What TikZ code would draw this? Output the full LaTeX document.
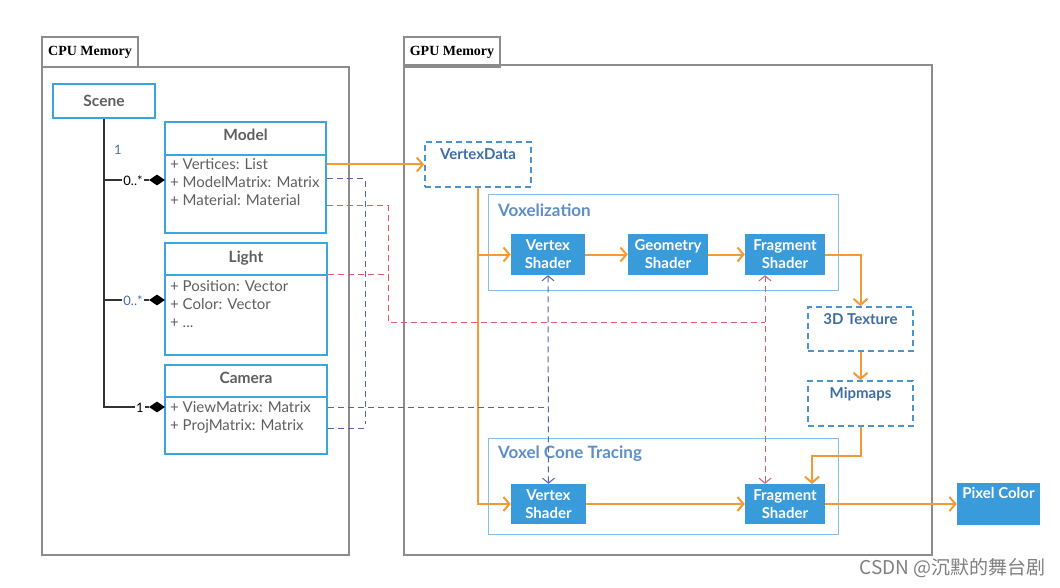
\documentclass[tikz,border=0pt]{standalone}
\usepackage{fontspec}
\setmainfont{Lato}
\newfontfamily\serifb{Liberation Serif}
\newfontfamily\cjk{Noto Sans CJK SC}
\usetikzlibrary{arrows.meta,shapes.geometric}
\definecolor{umlblue}{HTML}{3DA5DD}
\definecolor{shaderblue}{HTML}{3A9BDA}
\definecolor{orng}{HTML}{F39A34}
\definecolor{memgray}{HTML}{8C8C8C}
\definecolor{txtgray}{HTML}{5F5F5F}
\definecolor{dashblue}{HTML}{4B93CF}
\definecolor{darkblue}{HTML}{3C6DA6}
\definecolor{lblblue}{HTML}{5D8FC6}
\definecolor{groupblue}{HTML}{7FC1E6}
\definecolor{linkblue}{HTML}{5566A8}
\definecolor{linkred}{HTML}{E25A66}
\definecolor{multblue}{HTML}{4E6AA8}
\tikzset{
  membox/.style={draw=memgray, line width=1.8pt, inner sep=0pt},
  memtab/.style={draw=memgray, line width=1.8pt, inner sep=0pt, font=\serifb\bfseries\fontsize{14}{16}\selectfont},
  umlbox/.style={draw=umlblue, line width=1.8pt, inner sep=0pt, fill=white},
  umlhead/.style={anchor=north, text=txtgray, font=\bfseries\fontsize{15.5}{17}\selectfont},
  attrs/.style={anchor=north west, align=left, text=txtgray, inner sep=0pt, font=\fontsize{15}{18}\selectfont},
  shader/.style={fill=shaderblue, text=white, inner sep=0pt, align=center, font=\bfseries\fontsize{15}{18}\selectfont},
  dbox/.style={draw=dashblue, line width=1.8pt, dash pattern=on 6pt off 4pt, inner sep=0pt},
  dlabel/.style={anchor=north, text=darkblue, font=\bfseries\fontsize{15}{17}\selectfont},
  group/.style={draw=groupblue, line width=1pt, inner sep=0pt},
  grouplbl/.style={anchor=west, text=lblblue, font=\bfseries\fontsize{17}{19}\selectfont, inner sep=0pt},
  oline/.style={draw=orng, line width=2pt},
  oarrow/.style={oline, -{Straight Barb[length=6pt,width=14pt,line width=2pt]}},
  assoc/.style={draw=black!80, line width=2pt},
  diam/.style={diamond, fill=black, inner sep=0pt, minimum width=16pt, minimum height=11pt},
  mult/.style={fill=white, inner sep=1pt, font=\fontsize{13}{14}\selectfont},
  bdash/.style={draw=linkblue, line width=1pt, dash pattern=on 6pt off 4pt},
  rdash/.style={draw=linkred, line width=1pt, dash pattern=on 6pt off 4pt},
  linktip/.style={{Straight Barb[length=5pt,width=12pt,line width=1pt]}-{Straight Barb[length=5pt,width=12pt,line width=1pt]}}
}
\begin{document}
\begin{tikzpicture}[x=1pt,y=-1pt]
\useasboundingbox (0,0) rectangle (1060,588);
\fill[white] (0,0) rectangle (1060,588);

% memory containers
\node[membox, minimum width=307pt, minimum height=488pt] (cpu) at (195.5,311) {};
\node[memtab, minimum width=96pt, minimum height=30pt] (cputab) at (90,52) {CPU Memory};
\node[membox, minimum width=528pt, minimum height=490pt] (gpu) at (668,310) {};
\node[memtab, minimum width=96pt, minimum height=30pt] (gputab) at (452,52) {GPU Memory};

% CPU side
\node[umlbox, minimum width=102pt, minimum height=34pt, text=txtgray, font=\bfseries\fontsize{15.5}{17}\selectfont] (scene) at (104,101) {Scene};

\node[umlbox, minimum width=161pt, minimum height=111pt] (model) at (245.5,177.5) {};
\node[umlhead] (modelh) at (245.5,125) {Model};
\draw[draw=umlblue, line width=1.8pt] (model.west |- 0,155) -- (model.east |- 0,155);
\node[attrs] (modela) at (170,158) {+ Vertices: List\\+ ModelMatrix: Matrix\\+ Material: Material};

\node[umlbox, minimum width=162pt, minimum height=112pt] (light) at (246,299) {};
\node[umlhead] (lighth) at (246,247) {Light};
\draw[draw=umlblue, line width=1.8pt] (light.west |- 0,275) -- (light.east |- 0,275);
\node[attrs] (lighta) at (170,280) {+ Position: Vector\\+ Color: Vector\\+ ...};

\node[umlbox, minimum width=162pt, minimum height=89pt] (camera) at (246,409.5) {};
\node[umlhead] (camerah) at (246,369) {Camera};
\draw[draw=umlblue, line width=1.8pt] (camera.west |- 0,397) -- (camera.east |- 0,397);
\node[attrs] (cameraa) at (170,401) {+ ViewMatrix: Matrix\\+ ProjMatrix: Matrix};

\node[diam] (d1) at (157,180) {};
\node[diam] (d2) at (157,300) {};
\node[diam] (d3) at (157,407) {};
\draw[assoc] (scene.south) -- (scene.south |- d3) -- (d3.west);
\draw[assoc] (scene.south |- d1) -- (d1.west);
\draw[assoc] (scene.south |- d2) -- (d2.west);
\node[mult, text=multblue, fill=none] (m0) at (118,150) {1};
\node[mult] (m1) at (133,181) {0..*};
\node[mult, text=multblue] (m2) at (133,301) {0..*};
\node[mult] (m3) at (140,408) {1};

% GPU side
\node[dbox, minimum width=106pt, minimum height=45pt] (vd) at (478,164.5) {};
\node[dlabel] (vdl) at (478,145) {VertexData};

\node[group, minimum width=350pt, minimum height=95pt] (vox) at (663,242.5) {};
\node[grouplbl] (voxl) at (498,210) {Voxelization};
\node[shader, minimum width=74pt, minimum height=41pt] (vvs) at (548,254.5) {Vertex\\Shader};
\node[shader, minimum width=80pt, minimum height=41pt] (gs) at (668,254.5) {Geometry\\Shader};
\node[shader, minimum width=80pt, minimum height=41pt] (vfs) at (785,254.5) {Fragment\\Shader};

\node[dbox, minimum width=105pt, minimum height=44pt] (tex) at (860.5,329) {};
\node[dlabel] (texl) at (860.5,310) {3D Texture};
\node[dbox, minimum width=105pt, minimum height=45pt] (mip) at (860.5,403.5) {};
\node[dlabel] (mipl) at (860.5,384) {Mipmaps};

\node[group, minimum width=350pt, minimum height=96pt] (vct) at (663,486) {};
\node[grouplbl] (vctl) at (498,454) {Voxel Cone Tracing};
\node[shader, minimum width=75pt, minimum height=40pt] (cvs) at (548.5,504) {Vertex\\Shader};
\node[shader, minimum width=80pt, minimum height=40pt] (cfs) at (785,504) {Fragment\\Shader};
\coordinate (cfsin) at (812,484);

\node[fill=shaderblue, minimum width=83pt, minimum height=42pt, inner sep=0pt] (pix) at (998.5,504) {};
\node[anchor=north, text=white, font=\bfseries\fontsize{15}{17}\selectfont] (pixl) at (998.5,484) {Pixel Color};

% orange data flow
\draw[oarrow] (vd.west -| model.east) -- (vd.west);
\draw[oarrow] (vd.south) |- (cvs.west);
\draw[oarrow] (vd.south |- vvs.west) -- (vvs.west);
\draw[oarrow] (vvs) -- (gs);
\draw[oarrow] (gs) -- (vfs);
\draw[oarrow] (vfs.east) -| (tex.north);
\draw[oarrow] (tex.south) -- (mip.north);
\draw[oarrow] (mip.south) -- ++(0,29) -| (cfsin);
\draw[oarrow] (cvs) -- (cfs);
\draw[oarrow] (cfs.east) -- (pix.west);

% dashed uniform links
\coordinate (bx) at (365,0);
\coordinate (rx) at (388,0);
\draw[bdash] (model.east |- 0,179) -| (bx |- 0,424);
\draw[bdash] (camera.east |- 0,428) -- (bx |- 0,428);
\draw[bdash] (camera.east |- 0,407) -- (vvs.south |- 0,407);
\draw[bdash, linktip] (vvs.south) -- (cvs.north);
\draw[rdash] (model.east |- 0,206) -| (rx |- 0,322) -- ([xshift=-20pt]vfs.south |- 0,322);
\draw[rdash] (light.east |- 0,274) -- (rx |- 0,274);
\draw[rdash, linktip] ([xshift=-20pt]vfs.south) -- ([xshift=-20pt]cfs.north);

% watermark
\node[anchor=east, text=black!50, font=\cjk\fontsize{19}{21}\selectfont, inner sep=0pt] (wm) at (1046,568) {CSDN @沉默的舞台剧};
\end{tikzpicture}
\end{document}
